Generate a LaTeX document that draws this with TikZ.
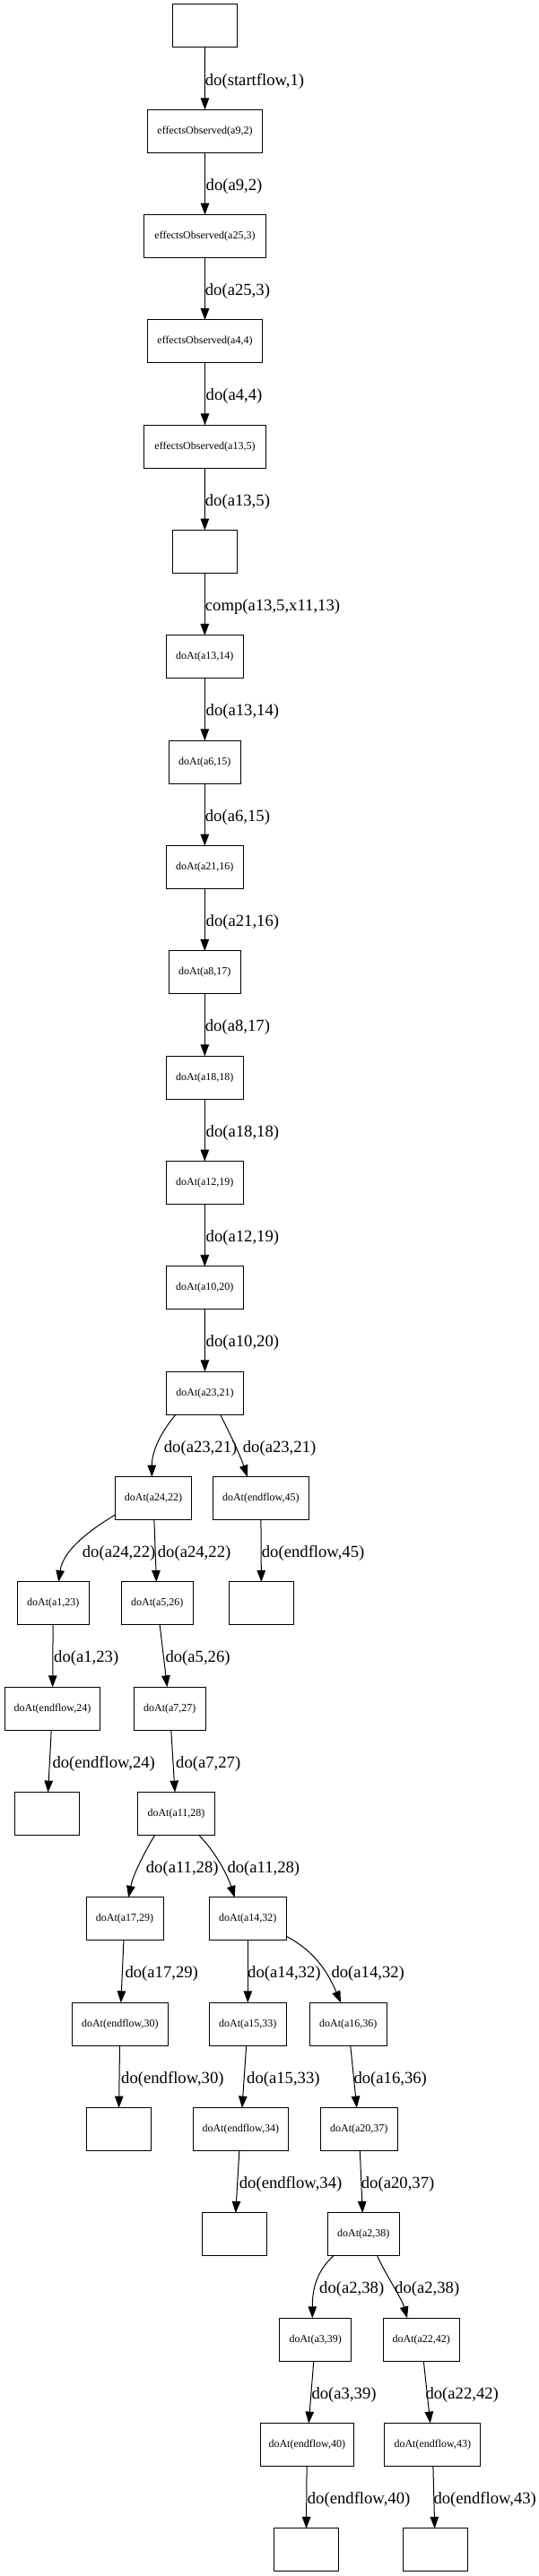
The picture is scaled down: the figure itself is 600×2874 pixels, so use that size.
\documentclass[tikz,border=0pt]{standalone}
\usepackage{fontspec}
\setmainfont{Liberation Serif}
\usetikzlibrary{arrows.meta}
\newcommand\ry[1]{29+117.33*#1}
\newcommand\ly[1]{29+117.33*#1+61.5}
\begin{document}
\begin{tikzpicture}[x=1pt,y=-1pt,
  box/.style={draw, line width=1pt, rectangle, minimum width=#1, minimum height=48, inner sep=2pt, outer sep=0pt, font=\fontsize{12}{14}\selectfont},
  arr/.style={draw, line width=1pt, -{Triangle[length=13pt,width=9.5pt]}},
  lbl/.style={anchor=west, inner sep=0pt, font=\fontsize{18.67}{20}\selectfont}]
\useasboundingbox (0,0) rectangle (600,2874);
% main column
\node[box=72]  (s0)  at (228.3,{\ry{0}}) {};
\node[box=128] (e1)  at (228.5,{\ry{1}}) {effectsObserved(a9,2)};
\node[box=136] (e2)  at (228.5,{\ry{2}}) {effectsObserved(a25,3)};
\node[box=128] (e3)  at (228.5,{\ry{3}}) {effectsObserved(a4,4)};
\node[box=136] (e4)  at (228.5,{\ry{4}}) {effectsObserved(a13,5)};
\node[box=72]  (s5)  at (228.3,{\ry{5}}) {};
\node[box=86]  (d6)  at (228.3,{\ry{6}}) {doAt(a13,14)};
\node[box=80]  (d7)  at (228.3,{\ry{7}}) {doAt(a6,15)};
\node[box=86]  (d8)  at (228.3,{\ry{8}}) {doAt(a21,16)};
\node[box=80]  (d9)  at (228.3,{\ry{9}}) {doAt(a8,17)};
\node[box=86]  (d10) at (228.3,{\ry{10}}) {doAt(a18,18)};
\node[box=86]  (d11) at (228.3,{\ry{11}}) {doAt(a12,19)};
\node[box=86]  (d12) at (228.3,{\ry{12}}) {doAt(a10,20)};
\node[box=86]  (d13) at (228.5,{\ry{13}}) {doAt(a23,21)};
% branches
\node[box=85]  (a24) at (171,{\ry{14}}) {doAt(a24,22)};
\node[box=107] (f45) at (290.8,{\ry{14}}) {doAt(endflow,45)};
\node[box=80]  (a1)  at (59.3,{\ry{15}}) {doAt(a1,23)};
\node[box=80]  (a5)  at (175.3,{\ry{15}}) {doAt(a5,26)};
\node[box=72]  (z45) at (291.5,{\ry{15}}) {};
\node[box=106] (f24) at (58.5,{\ry{16}}) {doAt(endflow,24)};
\node[box=80]  (a7)  at (189.3,{\ry{16}}) {doAt(a7,27)};
\node[box=72]  (z24) at (52.3,{\ry{17}}) {};
\node[box=86]  (a11) at (196.5,{\ry{17}}) {doAt(a11,28)};
\node[box=86]  (a17) at (139,{\ry{18}}) {doAt(a17,29)};
\node[box=86]  (a14) at (276.3,{\ry{18}}) {doAt(a14,32)};
\node[box=107] (f30) at (133.8,{\ry{19}}) {doAt(endflow,30)};
\node[box=86]  (a15) at (276.3,{\ry{19}}) {doAt(a15,33)};
\node[box=86]  (a16) at (388.3,{\ry{19}}) {doAt(a16,36)};
\node[box=72]  (z30) at (132.3,{\ry{20}}) {};
\node[box=106] (f34) at (268.3,{\ry{20}}) {doAt(endflow,34)};
\node[box=86]  (a20) at (400.3,{\ry{20}}) {doAt(a20,37)};
\node[box=72]  (z34) at (261.3,{\ry{21}}) {};
\node[box=80]  (a2)  at (405.3,{\ry{21}}) {doAt(a2,38)};
\node[box=80]  (a3)  at (351.7,{\ry{22}}) {doAt(a3,39)};
\node[box=85]  (a22) at (469.8,{\ry{22}}) {doAt(a22,42)};
\node[box=104] (f40) at (342.3,{\ry{23}}) {doAt(endflow,40)};
\node[box=107] (f43) at (482.3,{\ry{23}}) {doAt(endflow,43)};
\node[box=72]  (z40) at (341.3,{\ry{24}}) {};
\node[box=72]  (z43) at (485.3,{\ry{24}}) {};
% edges
\draw[arr] (s0) -- (e1);
\draw[arr] (e1) -- (e2);
\draw[arr] (e2) -- (e3);
\draw[arr] (e3) -- (e4);
\draw[arr] (e4) -- (s5);
\draw[arr] (s5) -- (d6);
\draw[arr] (d6) -- (d7);
\draw[arr] (d7) -- (d8);
\draw[arr] (d8) -- (d9);
\draw[arr] (d9) -- (d10);
\draw[arr] (d10) -- (d11);
\draw[arr] (d11) -- (d12);
\draw[arr] (d12) -- (d13);
\draw[arr] ([xshift=10.3pt]d13.south west) .. controls +(-20,24) and +(0,-25) .. ([xshift=-1.7pt]a24.north);
\draw[arr] ([xshift=17.2pt]d13.south) .. controls +(12,24) and +(-8,-24) .. ([xshift=-15pt]f45.north);
\draw[arr] ([yshift=5.6pt]a24.south west) .. controls +(-30,18) and +(5,-35) .. ([xshift=6pt]a1.north);
\draw[arr] (a24) -- (a5);
\draw[arr] (f45) -- (z45);
\draw[arr] (a1) -- (f24);
\draw[arr] (a5) -- (a7);
\draw[arr] (f24) -- (z24);
\draw[arr] (a7) -- (a11);
\draw[arr] ([xshift=-24pt]a11.south) .. controls +(-12,20) and +(5,-25) .. ([xshift=4.3pt]a17.north);
\draw[arr] ([xshift=25.4pt]a11.south) .. controls +(18,18) and +(-8,-25) .. ([xshift=-14.6pt]a14.north);
\draw[arr] (a17) -- (f30);
\draw[arr] (a14) -- (a15);
\draw[arr] ([yshift=4.6pt]a14.south east) .. controls +(35,18) and +(-12,-28) .. ([xshift=-8.3pt]a16.north);
\draw[arr] (f30) -- (z30);
\draw[arr] (a15) -- (f34);
\draw[arr] (a16) -- (a20);
\draw[arr] (f34) -- (z34);
\draw[arr] (a20) -- (a2);
\draw[arr] ([xshift=6.4pt]a2.south west) .. controls +(-20,18) and +(0,-30) .. ([xshift=-3.4pt]a3.north);
\draw[arr] ([xshift=15.4pt]a2.south) .. controls +(10,22) and +(-6,-22) .. ([xshift=-15.8pt]a22.north);
\draw[arr] (a3) -- (f40);
\draw[arr] (a22) -- (f43);
\draw[arr] (f40) -- (z40);
\draw[arr] (f43) -- (z43);
% labels
\node[lbl] (l0)  at (228.7,{\ly{0}}) {do(startflow,1)};
\node[lbl] (l1)  at (229.5,{\ly{1}}) {do(a9,2)};
\node[lbl] (l2)  at (228.7,{\ly{2}}) {do(a25,3)};
\node[lbl] (l3)  at (229.5,{\ly{3}}) {do(a4,4)};
\node[lbl] (l4)  at (228.7,{\ly{4}}) {do(a13,5)};
\node[lbl] (l5)  at (228.7,{\ly{5}}) {comp(a13,5,x11,13)};
\node[lbl] (l6)  at (229.5,{\ly{6}}) {do(a13,14)};
\node[lbl] (l7)  at (228.7,{\ly{7}}) {do(a6,15)};
\node[lbl] (l8)  at (229.5,{\ly{8}}) {do(a21,16)};
\node[lbl] (l9)  at (228.7,{\ly{9}}) {do(a8,17)};
\node[lbl] (l10) at (229.5,{\ly{10}}) {do(a18,18)};
\node[lbl] (l11) at (229.5,{\ly{11}}) {do(a12,19)};
\node[lbl] (l12) at (229.5,{\ly{12}}) {do(a10,20)};
\node[lbl] (l13a) at (182.7,{\ly{13}}) {do(a23,21)};
\node[lbl] (l13b) at (270.7,{\ly{13}}) {do(a23,21)};
\node[lbl] (l14a) at (91.7,{\ly{14}}) {do(a24,22)};
\node[lbl] (l14b) at (175.7,{\ly{14}}) {do(a24,22)};
\node[lbl] (l14c) at (291.7,{\ly{14}}) {do(endflow,45)};
\node[lbl] (l15a) at (60,{\ly{15}}) {do(a1,23)};
\node[lbl] (l15b) at (184.3,{\ly{15}}) {do(a5,26)};
\node[lbl] (l16a) at (58.3,{\ly{16}}) {do(endflow,24)};
\node[lbl] (l16b) at (196,{\ly{16}}) {do(a7,27)};
\node[lbl] (l17a) at (162.7,{\ly{17}}) {do(a11,28)};
\node[lbl] (l17b) at (253.3,{\ly{17}}) {do(a11,28)};
\node[lbl] (l18a) at (139.3,{\ly{18}}) {do(a17,29)};
\node[lbl] (l18b) at (276,{\ly{18}}) {do(a14,32)};
\node[lbl] (l18c) at (369.3,{\ly{18}}) {do(a14,32)};
\node[lbl] (l19a) at (135,{\ly{19}}) {do(endflow,30)};
\node[lbl] (l19b) at (275,{\ly{19}}) {do(a15,33)};
\node[lbl] (l19c) at (394.3,{\ly{19}}) {do(a16,36)};
\node[lbl] (l20a) at (266.7,{\ly{20}}) {do(endflow,34)};
\node[lbl] (l20b) at (402.7,{\ly{20}}) {do(a20,37)};
\node[lbl] (l21a) at (356,{\ly{21}}) {do(a2,38)};
\node[lbl] (l21b) at (440,{\ly{21}}) {do(a2,38)};
\node[lbl] (l22a) at (347.3,{\ly{22}}) {do(a3,39)};
\node[lbl] (l22b) at (474.3,{\ly{22}}) {do(a22,42)};
\node[lbl] (l23a) at (342.7,{\ly{23}}) {do(endflow,40)};
\node[lbl] (l23b) at (483.3,{\ly{23}}) {do(endflow,43)};
\end{tikzpicture}
\end{document}
